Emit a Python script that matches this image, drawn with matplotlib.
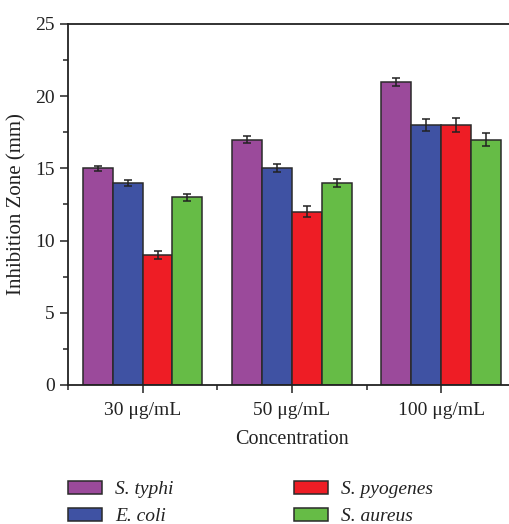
import matplotlib
matplotlib.use("Agg")
import matplotlib.pyplot as plt
import numpy as np
from matplotlib.ticker import MultipleLocator, FixedLocator
from matplotlib.patches import Patch

categories = ["30 μg/mL", "50 μg/mL", "100 μg/mL"]
series = ["S. typhi", "E. coli", "S. pyogenes", "S. aureus"]
s_typhi = [15.0, 17.0, 21.0]
e_coli = [14.0, 15.0, 18.0]
s_pyogenes = [9.0, 12.0, 18.0]
s_aureus = [13.0, 14.0, 17.0]
err_typhi = [0.18, 0.21, 0.29]
err_coli = [0.22, 0.27, 0.40]
err_pyogenes = [0.30, 0.38, 0.48]
err_aureus = [0.25, 0.27, 0.43]
colors = ["#9B4A9B", "#3F52A3", "#EE1D25", "#66BC46"]

values = [s_typhi, e_coli, s_pyogenes, s_aureus]
errors = [err_typhi, err_coli, err_pyogenes, err_aureus]

plt.rcParams['font.family'] = ['Liberation Serif', 'DejaVu Serif']

fig = plt.figure(figsize=(5.09, 5.24), dpi=100)
ax = fig.add_axes([0.1336, 0.2653, 0.8797, 0.6889])

x = np.arange(len(categories))
w = 0.2
for i, (vals, errs, c) in enumerate(zip(values, errors, colors)):
    pos = x + (i - 1.5) * w
    ax.bar(pos, vals, width=w, color=c, edgecolor="#2a2a2a", linewidth=1.1, zorder=2)
    ax.errorbar(pos, vals, yerr=errs, fmt="none", ecolor="#222222", elinewidth=1.1,
                capsize=3, capthick=1.1, zorder=3)

ax.set_xlim(-0.5, 2.5)
ax.set_ylim(0, 25)
ax.yaxis.set_major_locator(MultipleLocator(5))
ax.yaxis.set_minor_locator(MultipleLocator(2.5))
ax.set_xticks(x)
ax.set_xticklabels(categories)
ax.xaxis.set_minor_locator(FixedLocator([-0.5, 0.5, 1.5, 2.5]))
ax.tick_params(axis="both", which="major", direction="out", length=6, width=1.1,
               labelsize=14, colors="#222222", labelcolor="#222222")
ax.tick_params(axis="both", which="minor", direction="out", length=3.5, width=1.1,
               colors="#222222")
ax.tick_params(axis="x", which="major", pad=6)
for s in ax.spines.values():
    s.set_linewidth(1.3)
    s.set_color("#222222")

ax.set_ylabel("Inhibition Zone (mm)", fontsize=15, color="#222222", labelpad=6)
ax.set_xlabel("Concentration", fontsize=14.5, color="#222222", labelpad=8)

handles = [Patch(facecolor=c, edgecolor="#2a2a2a", linewidth=1.1) for c in colors]
leg = fig.legend(handles, series, ncol=2, loc="upper left",
                 bbox_to_anchor=(0.1336, 0.083), frameon=False,
                 prop={"style": "italic", "size": 14},
                 handlelength=1.75, handleheight=0.67, handletextpad=0.67,
                 columnspacing=6.2, labelspacing=0.52, borderaxespad=0,
                 borderpad=0)
for t in leg.get_texts():
    t.set_color("#222222")

fig.savefig("out.png", dpi=100)
